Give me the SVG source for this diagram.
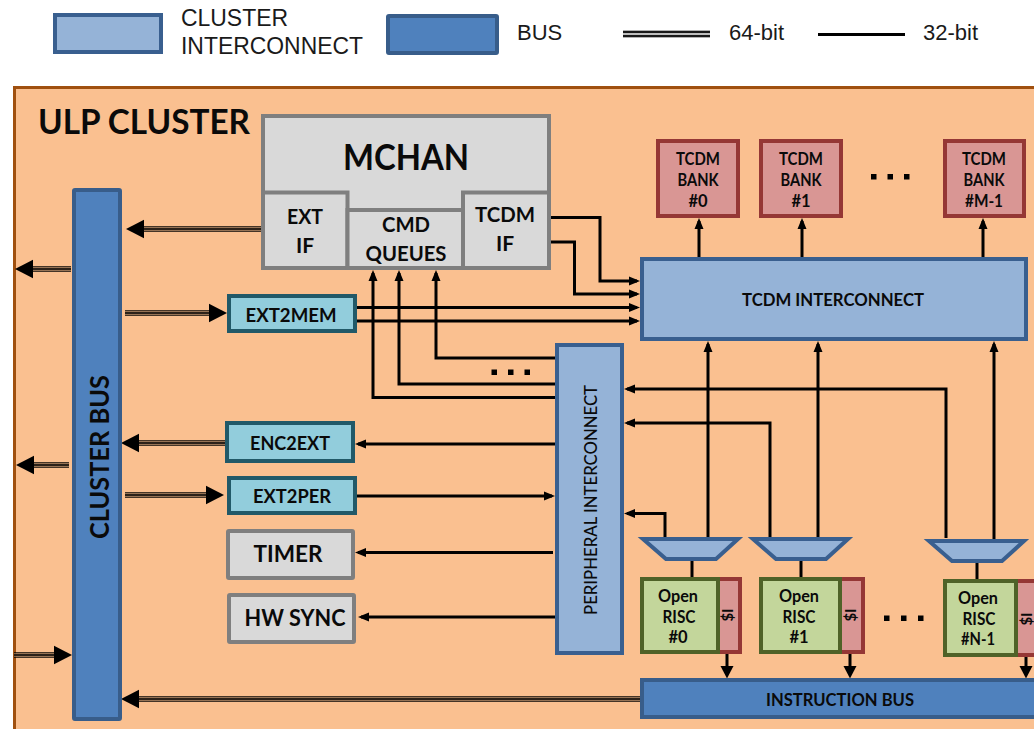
<svg xmlns="http://www.w3.org/2000/svg" width="1034" height="729" viewBox="0 0 1034 729">
<style>
text{font-family:"Lato","Carlito","Noto Sans",sans-serif;font-weight:700;fill:#0a0a0a;text-anchor:middle}
text.leg{font-family:"Liberation Sans",Arial,sans-serif;font-weight:400;font-size:22px;text-anchor:start;fill:#1a1a1a}
.ci{fill:#95B3D7;stroke:#395F8F;stroke-width:4}
.bus{fill:#4F81BD;stroke:#385D8A;stroke-width:4}
.gray{fill:#D9D9D9;stroke:#7F7F7F;stroke-width:4}
.teal{fill:#92CDDC;stroke:#215968;stroke-width:4}
.red{fill:#D99694;stroke:#953735;stroke-width:4}
.grn{fill:#C3D69B;stroke:#4F6228;stroke-width:4}
.c{fill:none;stroke:#000;stroke-width:3}
.ca{marker-end:url(#a)}
.cb{marker-end:url(#b)}
.w1{stroke:#000;stroke-width:6;opacity:.72}
.w2{stroke:#FAC090;stroke-width:3.6;opacity:.6}
.w3{stroke:#000;stroke-width:1.3;marker-end:url(#h)}
.dot{fill:#000}
</style>
<defs>
<marker id="a" markerUnits="userSpaceOnUse" markerWidth="12" markerHeight="10" refX="8" refY="5" orient="auto"><path d="M0 .5L11 5L0 9.500z" fill="#000"/></marker>
<marker id="b" markerUnits="userSpaceOnUse" markerWidth="13" markerHeight="14" refX="6" refY="7" orient="auto"><path d="M0 .5L12.500 7L0 13.500z" fill="#000"/></marker>
<marker id="h" markerUnits="userSpaceOnUse" markerWidth="19" markerHeight="20" refX="8" refY="10" orient="auto"><path d="M0 .8L18 10L0 19.200z" fill="#000"/></marker>
</defs>
<rect width="1034" height="729" fill="#fff"/>
<g id="legend">
<rect class="ci" x="55" y="15" width="106" height="37"/>
<text class="leg" x="181" y="26" style="font-size:23px" textLength="107" lengthAdjust="spacingAndGlyphs">CLUSTER</text>
<text class="leg" x="181" y="54" style="font-size:23px" textLength="182" lengthAdjust="spacingAndGlyphs">INTERCONNECT</text>
<rect class="bus" x="388" y="16" width="109" height="37" rx="1"/>
<text class="leg" x="517" y="40">BUS</text>
<line x1="623" y1="34" x2="710" y2="34" stroke="#666" stroke-width="7"/>
<line x1="623" y1="32" x2="710" y2="32" stroke="#000" stroke-width="1.300"/>
<line x1="623" y1="36" x2="710" y2="36" stroke="#000" stroke-width="1.300"/>
<line x1="623" y1="34" x2="710" y2="34" stroke="#ddd" stroke-width="1.300"/>
<text class="leg" x="729" y="40">64-bit</text>
<line x1="818" y1="34.500" x2="905" y2="34.500" stroke="#000" stroke-width="3"/>
<text class="leg" x="923" y="40">32-bit</text>
</g>
<g id="ulp-cluster">
<rect x="14.500" y="87.500" width="1040" height="660" fill="#FAC090" stroke="#A0500F" stroke-width="3"/>
<text x="144" y="134" font-size="34" textLength="212" lengthAdjust="spacingAndGlyphs">ULP CLUSTER</text>
</g>
<g id="connectors">
<path class="c ca" d="M699 257V221"/><path class="c ca" d="M802 257V221"/><path class="c ca" d="M983 257V221"/>
<path class="c ca" d="M550 217.500H600V281H637"/>
<path class="c ca" d="M551 242H574.500V294H637"/>
<path class="c ca" d="M356 307.500H637"/>
<path class="c ca" d="M356 321H637"/>
<path class="c ca" d="M556 358H436V273"/>
<path class="c ca" d="M556 384H399V273"/>
<path class="c ca" d="M556 397.500H373V273"/>
<path class="c ca" d="M555 444H358"/>
<path class="c ca" d="M357 496H552"/>
<path class="c ca" d="M553 552.500H358"/>
<path class="c ca" d="M555 617H361"/>
<path class="c ca" d="M946 538V389H627"/>
<path class="c ca" d="M770 538V423H627"/>
<path class="c ca" d="M665 538V513.500H627"/>
<path class="c ca" d="M708 538V344"/>
<path class="c ca" d="M818 538V344"/>
<path class="c ca" d="M994 540V344"/>
<path class="c" d="M692 560V578M801 560V578M977 562V580"/>
<path class="c cb" d="M727 654V672"/>
<path class="c cb" d="M850 654V672"/>
<path class="c cb" d="M1026 657V672"/>
<g><line class="w1" x1="262" y1="229" x2="136" y2="229"/><line class="w2" x1="262" y1="229" x2="136" y2="229"/><line class="w3" x1="262" y1="229" x2="136" y2="229"/></g>
<g><line class="w1" x1="71" y1="269" x2="25" y2="269"/><line class="w2" x1="71" y1="269" x2="25" y2="269"/><line class="w3" x1="71" y1="269" x2="25" y2="269"/></g>
<g><line class="w1" x1="125" y1="313" x2="217" y2="313"/><line class="w2" x1="125" y1="313" x2="217" y2="313"/><line class="w3" x1="125" y1="313" x2="217" y2="313"/></g>
<g><line class="w1" x1="226" y1="443" x2="131" y2="443"/><line class="w2" x1="226" y1="443" x2="131" y2="443"/><line class="w3" x1="226" y1="443" x2="131" y2="443"/></g>
<g><line class="w1" x1="69" y1="465" x2="26" y2="465"/><line class="w2" x1="69" y1="465" x2="26" y2="465"/><line class="w3" x1="69" y1="465" x2="26" y2="465"/></g>
<g><line class="w1" x1="125" y1="495" x2="214" y2="495"/><line class="w2" x1="125" y1="495" x2="214" y2="495"/><line class="w3" x1="125" y1="495" x2="214" y2="495"/></g>
<g><line class="w1" x1="14" y1="655" x2="62" y2="655"/><line class="w2" x1="14" y1="655" x2="62" y2="655"/><line class="w3" x1="14" y1="655" x2="62" y2="655"/></g>
<g><line class="w1" x1="642" y1="699" x2="131" y2="699"/><line class="w2" x1="642" y1="699" x2="131" y2="699"/><line class="w3" x1="642" y1="699" x2="131" y2="699"/></g>
</g>
<g id="mchan">
<rect class="gray" x="263" y="116" width="286" height="152"/>
<text x="406" y="170" font-size="36" textLength="126" lengthAdjust="spacingAndGlyphs">MCHAN</text>
</g>
<g id="ext-if">
<path class="gray" d="M263 192.500H347.500V268H263z"/>
<text x="305" y="224" font-size="21" textLength="36" lengthAdjust="spacingAndGlyphs">EXT</text>
<text x="305" y="253" font-size="21">IF</text>
</g>
<g id="cmd-queues">
<path class="gray" d="M347.500 210H463V268H347.500z"/>
<text x="406" y="232" font-size="21" textLength="48" lengthAdjust="spacingAndGlyphs">CMD</text>
<text x="406" y="261" font-size="21" textLength="81" lengthAdjust="spacingAndGlyphs">QUEUES</text>
</g>
<g id="tcdm-if">
<path class="gray" d="M463 192.500H549V268H463z"/>
<text x="505" y="222" font-size="21" textLength="60" lengthAdjust="spacingAndGlyphs">TCDM</text>
<text x="505" y="251" font-size="21">IF</text>
</g>
<g id="tcdm-bank-0"><rect class="red" x="658" y="141" width="80" height="75"/><text x="698" y="165" font-size="16.500" textLength="44" lengthAdjust="spacingAndGlyphs">TCDM</text><text x="698" y="186" font-size="16.500" textLength="41" lengthAdjust="spacingAndGlyphs">BANK</text><text x="698" y="207" font-size="16.500">#0</text></g>
<g id="tcdm-bank-1"><rect class="red" x="761" y="141" width="80" height="75"/><text x="801" y="165" font-size="16.500" textLength="44" lengthAdjust="spacingAndGlyphs">TCDM</text><text x="801" y="186" font-size="16.500" textLength="41" lengthAdjust="spacingAndGlyphs">BANK</text><text x="801" y="207" font-size="16.500">#1</text></g>
<g id="tcdm-bank-m"><rect class="red" x="945" y="141" width="79" height="75"/><text x="984" y="165" font-size="16.500" textLength="44" lengthAdjust="spacingAndGlyphs">TCDM</text><text x="984" y="186" font-size="16.500" textLength="41" lengthAdjust="spacingAndGlyphs">BANK</text><text x="984" y="207" font-size="16.500" textLength="38" lengthAdjust="spacingAndGlyphs">#M-1</text></g>
<g id="bank-dots" class="dot"><rect x="871" y="174" width="5.500" height="5.500"/><rect x="887.500" y="174" width="5.500" height="5.500"/><rect x="904" y="174" width="5.500" height="5.500"/></g>
<g id="tcdm-interconnect"><rect class="ci" x="642" y="259" width="384" height="80"/><text x="833" y="306" font-size="16.500" textLength="182" lengthAdjust="spacingAndGlyphs">TCDM INTERCONNECT</text></g>
<g id="cluster-bus"><rect class="bus" x="74" y="190" width="46" height="529" rx="1"/><text transform="translate(108.500 457) rotate(-90)" font-size="27" textLength="164" lengthAdjust="spacingAndGlyphs">CLUSTER BUS</text></g>
<g id="ext2mem"><rect class="teal" x="229" y="296" width="126" height="35"/><text x="291" y="322" font-size="19" textLength="91" lengthAdjust="spacingAndGlyphs">EXT2MEM</text></g>
<g id="enc2ext"><rect class="teal" x="227" y="423" width="126" height="38"/><text x="290" y="450" font-size="19" textLength="80" lengthAdjust="spacingAndGlyphs">ENC2EXT</text></g>
<g id="ext2per"><rect class="teal" x="229" y="478" width="126" height="35"/><text x="292" y="503" font-size="19" textLength="78" lengthAdjust="spacingAndGlyphs">EXT2PER</text></g>
<g id="timer"><rect class="gray" x="228" y="531" width="125" height="47" rx="1"/><text x="288" y="562" font-size="23" textLength="69" lengthAdjust="spacingAndGlyphs">TIMER</text></g>
<g id="hw-sync"><rect class="gray" x="229" y="595" width="125" height="47" rx="1"/><text x="295" y="626" font-size="23" textLength="101" lengthAdjust="spacingAndGlyphs">HW SYNC</text></g>
<g id="peripheral-interconnect"><rect class="ci" x="557" y="345" width="65" height="308"/><text transform="translate(596.500 500) rotate(-90)" font-size="17.500" style="font-weight:500" textLength="230" lengthAdjust="spacingAndGlyphs">PERIPHERAL INTERCONNECT</text></g>
<g id="bus-dots" class="dot"><rect x="491.500" y="369.500" width="5.500" height="5.500"/><rect x="508" y="369.500" width="5.500" height="5.500"/><rect x="524.500" y="369.500" width="5.500" height="5.500"/></g>
<g id="mux-0"><path class="ci" d="M643 539H738L716 559H666z"/></g>
<g id="mux-1"><path class="ci" d="M753 539H848L826 559H776z"/></g>
<g id="mux-n"><path class="ci" d="M929 541H1024L1002 561H952z"/></g>
<g id="cache-0"><rect class="red" x="717" y="579" width="23" height="73"/><text transform="translate(733 615) rotate(-90)" font-size="15">$I</text></g>
<g id="risc-0"><rect class="grn" x="642" y="579" width="76" height="73"/><text x="678" y="602" font-size="16.500" textLength="40" lengthAdjust="spacingAndGlyphs">Open</text><text x="679" y="623" font-size="16.500" textLength="33" lengthAdjust="spacingAndGlyphs">RISC</text><text x="678" y="643" font-size="16.500">#0</text></g>
<g id="cache-1"><rect class="red" x="839" y="579" width="24" height="73"/><text transform="translate(856 615) rotate(-90)" font-size="15">$I</text></g>
<g id="risc-1"><rect class="grn" x="761" y="579" width="79" height="73"/><text x="799" y="602" font-size="16.500" textLength="40" lengthAdjust="spacingAndGlyphs">Open</text><text x="799" y="623" font-size="16.500" textLength="33" lengthAdjust="spacingAndGlyphs">RISC</text><text x="799" y="643" font-size="16.500">#1</text></g>
<g id="cache-n"><rect class="red" x="1015" y="581" width="30" height="74"/><text transform="translate(1032 619) rotate(-90)" font-size="15">$I</text></g>
<g id="risc-n"><rect class="grn" x="945" y="581" width="71" height="74"/><text x="978" y="604" font-size="16.500" textLength="40" lengthAdjust="spacingAndGlyphs">Open</text><text x="979" y="625" font-size="16.500" textLength="33" lengthAdjust="spacingAndGlyphs">RISC</text><text x="978" y="645" font-size="16.500" textLength="34" lengthAdjust="spacingAndGlyphs">#N-1</text></g>
<g id="risc-dots" class="dot"><rect x="884" y="615.500" width="5.500" height="5.500"/><rect x="901" y="615.500" width="5.500" height="5.500"/><rect x="918" y="615.500" width="5.500" height="5.500"/></g>
<g id="instruction-bus"><rect class="bus" x="642" y="680" width="400" height="37"/><text x="840" y="706" font-size="16.500" textLength="148" lengthAdjust="spacingAndGlyphs">INSTRUCTION BUS</text></g>
</svg>
